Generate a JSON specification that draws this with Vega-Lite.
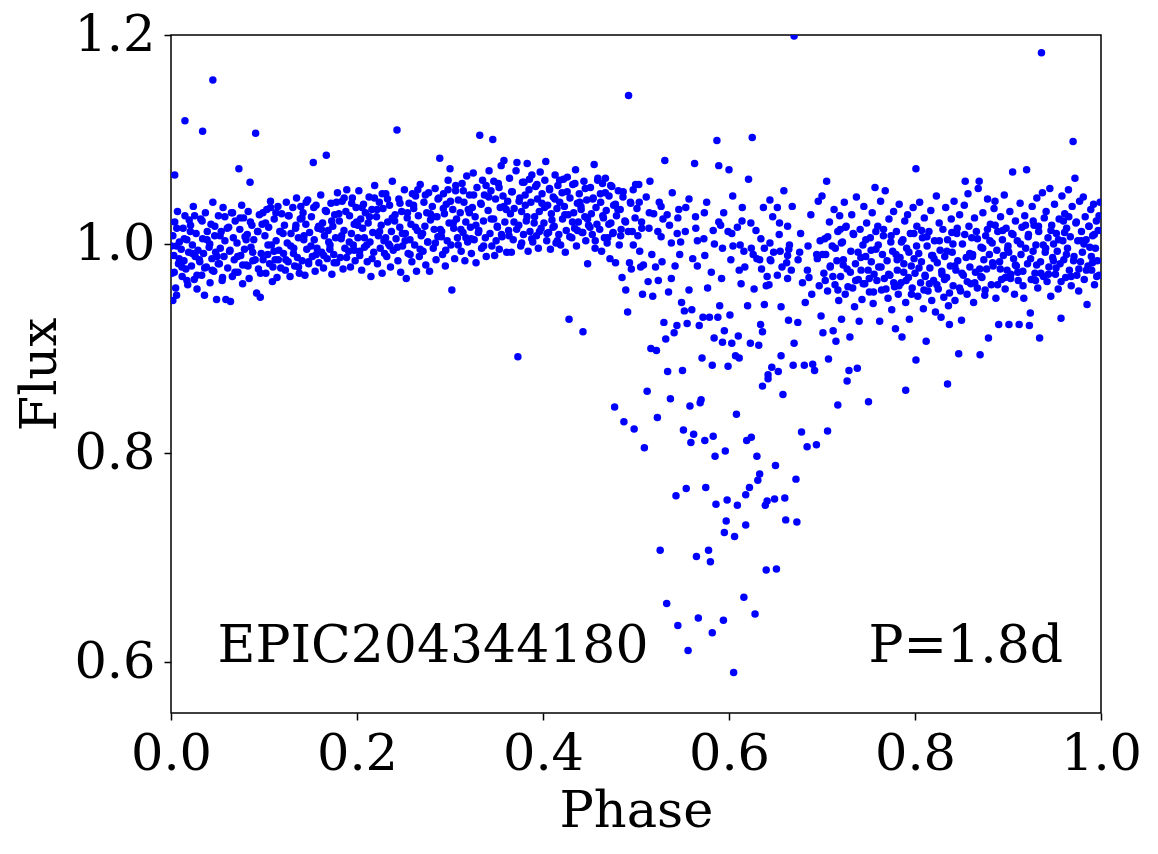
{
"$schema": "https://vega.github.io/schema/vega-lite/v6.json",
"usermeta": {"embedOptions": {"actions": false}},
"autosize": {"type": "none"},
"width": 930,
"height": 678,
"padding": {"left": 171, "top": 35, "right": 57, "bottom": 141},
"background": "white",
"config": {
  "view": {"stroke": "black", "strokeWidth": 1.5},
  "axis": {"grid": false, "domain": false, "ticks": true, "tickSize": 7, "tickWidth": 1.5, "tickColor": "black",
    "labelFont": "DejaVu Serif", "labelFontSize": 51, "labelColor": "black", "labelPadding": 9,
    "labelFlush": false, "labelOverlap": false, "labelBound": false,
    "titleFont": "DejaVu Serif", "titleFontSize": 51, "titleFontWeight": "normal", "titleColor": "black"}
},
"layer": [
{
  "data": {"values": [
{"p":0.001,"f":0.972},{"p":0.002,"f":1.008},{"p":0.003,"f":0.989},{"p":0.004,"f":1.021},{"p":0.005,"f":0.958},{"p":0.006,"f":0.998},{"p":0.007,"f":1.031},{"p":0.008,"f":0.981},{"p":0.009,"f":1.002},{"p":0.004,"f":1.066},{"p":0.002,"f":0.946},{"p":0.006,"f":0.951},
{"p":0.011,"f":0.995},{"p":0.012,"f":0.969},{"p":0.013,"f":1.015},{"p":0.014,"f":0.984},{"p":0.015,"f":1.027},{"p":0.016,"f":0.976},{"p":0.017,"f":1.004},{"p":0.018,"f":0.961},{"p":0.019,"f":0.992},{"p":0.015,"f":1.118},
{"p":0.021,"f":1.018},{"p":0.022,"f":0.979},{"p":0.023,"f":0.999},{"p":0.024,"f":1.036},{"p":0.025,"f":0.966},{"p":0.026,"f":0.988},{"p":0.027,"f":1.010},{"p":0.028,"f":0.957},{"p":0.029,"f":0.994},
{"p":0.031,"f":0.983},{"p":0.032,"f":1.024},{"p":0.033,"f":0.970},{"p":0.034,"f":1.005},{"p":0.035,"f":0.991},{"p":0.036,"f":0.951},{"p":0.037,"f":1.030},{"p":0.038,"f":0.978},{"p":0.039,"f":1.012},{"p":0.034,"f":1.108},
{"p":0.041,"f":0.997},{"p":0.042,"f":0.963},{"p":0.043,"f":1.019},{"p":0.044,"f":0.986},{"p":0.045,"f":1.040},{"p":0.046,"f":0.974},{"p":0.047,"f":1.008},{"p":0.048,"f":0.992},{"p":0.049,"f":0.947},{"p":0.045,"f":1.157},
{"p":0.051,"f":1.027},{"p":0.052,"f":0.981},{"p":0.053,"f":0.996},{"p":0.054,"f":1.012},{"p":0.055,"f":0.965},{"p":0.056,"f":1.035},{"p":0.057,"f":0.988},{"p":0.058,"f":1.003},{"p":0.059,"f":0.947},
{"p":0.061,"f":0.977},{"p":0.062,"f":1.016},{"p":0.063,"f":0.993},{"p":0.064,"f":0.945},{"p":0.065,"f":1.030},{"p":0.066,"f":0.969},{"p":0.067,"f":1.006},{"p":0.068,"f":0.985},{"p":0.069,"f":1.022},
{"p":0.071,"f":1.001},{"p":0.072,"f":0.973},{"p":0.073,"f":1.072},{"p":0.074,"f":1.014},{"p":0.075,"f":0.989},{"p":0.076,"f":1.037},{"p":0.077,"f":0.962},{"p":0.078,"f":1.025},{"p":0.079,"f":0.995},
{"p":0.081,"f":0.980},{"p":0.082,"f":1.009},{"p":0.083,"f":1.031},{"p":0.084,"f":0.967},{"p":0.085,"f":1.059},{"p":0.086,"f":0.997},{"p":0.087,"f":1.018},{"p":0.088,"f":0.984},{"p":0.089,"f":1.004},
{"p":0.091,"f":1.106},{"p":0.092,"f":0.953},{"p":0.093,"f":1.012},{"p":0.094,"f":0.976},{"p":0.095,"f":1.028},{"p":0.096,"f":0.949},{"p":0.097,"f":0.991},{"p":0.098,"f":1.019},{"p":0.099,"f":0.985},
{"p":0.101,"f":1.008},{"p":0.102,"f":0.972},{"p":0.103,"f":1.033},{"p":0.104,"f":0.990},{"p":0.105,"f":1.016},{"p":0.106,"f":0.981},{"p":0.107,"f":1.041},{"p":0.108,"f":0.999},{"p":0.109,"f":0.964},
{"p":0.111,"f":1.024},{"p":0.112,"f":0.985},{"p":0.113,"f":1.003},{"p":0.114,"f":0.968},{"p":0.115,"f":1.036},{"p":0.116,"f":0.994},{"p":0.117,"f":1.012},{"p":0.118,"f":0.977},{"p":0.119,"f":1.029},
{"p":0.121,"f":0.991},{"p":0.122,"f":1.018},{"p":0.123,"f":0.975},{"p":0.124,"f":1.040},{"p":0.125,"f":1.001},{"p":0.126,"f":0.983},{"p":0.127,"f":1.027},{"p":0.128,"f":0.969},{"p":0.129,"f":1.010},
{"p":0.131,"f":1.035},{"p":0.132,"f":0.996},{"p":0.133,"f":0.979},{"p":0.134,"f":1.015},{"p":0.135,"f":1.044},{"p":0.136,"f":0.987},{"p":0.137,"f":1.006},{"p":0.138,"f":0.972},{"p":0.139,"f":1.024},
{"p":0.141,"f":0.984},{"p":0.142,"f":1.030},{"p":0.143,"f":1.008},{"p":0.144,"f":0.970},{"p":0.145,"f":1.019},{"p":0.146,"f":0.995},{"p":0.147,"f":1.042},{"p":0.148,"f":0.981},{"p":0.149,"f":1.011},
{"p":0.151,"f":1.026},{"p":0.152,"f":0.988},{"p":0.153,"f":1.078},{"p":0.154,"f":1.004},{"p":0.155,"f":0.974},{"p":0.156,"f":1.037},{"p":0.157,"f":0.996},{"p":0.158,"f":1.015},{"p":0.159,"f":0.982},
{"p":0.161,"f":1.047},{"p":0.162,"f":0.992},{"p":0.163,"f":1.020},{"p":0.164,"f":0.977},{"p":0.165,"f":1.008},{"p":0.166,"f":1.032},{"p":0.167,"f":1.085},{"p":0.168,"f":0.986},{"p":0.169,"f":1.013},
{"p":0.171,"f":0.999},{"p":0.172,"f":1.039},{"p":0.173,"f":0.971},{"p":0.174,"f":1.017},{"p":0.175,"f":0.990},{"p":0.176,"f":1.028},{"p":0.177,"f":1.006},{"p":0.178,"f":0.982},{"p":0.179,"f":1.049},
{"p":0.181,"f":1.022},{"p":0.182,"f":0.987},{"p":0.183,"f":1.005},{"p":0.184,"f":1.041},{"p":0.185,"f":0.976},{"p":0.186,"f":1.013},{"p":0.187,"f":0.996},{"p":0.188,"f":1.031},{"p":0.189,"f":1.052},
{"p":0.191,"f":0.993},{"p":0.192,"f":1.027},{"p":0.193,"f":0.978},{"p":0.194,"f":1.010},{"p":0.195,"f":1.044},{"p":0.196,"f":0.999},{"p":0.197,"f":1.019},{"p":0.198,"f":0.984},{"p":0.199,"f":1.035},
{"p":0.201,"f":1.006},{"p":0.202,"f":1.051},{"p":0.203,"f":0.989},{"p":0.204,"f":1.024},{"p":0.205,"f":0.975},{"p":0.206,"f":1.015},{"p":0.207,"f":1.038},{"p":0.208,"f":0.997},{"p":0.209,"f":1.030},
{"p":0.211,"f":0.983},{"p":0.212,"f":1.020},{"p":0.213,"f":1.045},{"p":0.214,"f":1.002},{"p":0.215,"f":0.969},{"p":0.216,"f":1.033},{"p":0.217,"f":1.011},{"p":0.218,"f":0.992},{"p":0.219,"f":1.056},
{"p":0.221,"f":1.026},{"p":0.222,"f":0.981},{"p":0.223,"f":1.008},{"p":0.224,"f":1.040},{"p":0.225,"f":0.996},{"p":0.226,"f":1.018},{"p":0.227,"f":0.972},{"p":0.228,"f":1.034},{"p":0.229,"f":1.003},
{"p":0.231,"f":1.048},{"p":0.232,"f":0.988},{"p":0.233,"f":1.021},{"p":0.234,"f":1.000},{"p":0.235,"f":1.037},{"p":0.236,"f":0.978},{"p":0.237,"f":1.012},{"p":0.238,"f":1.060},{"p":0.239,"f":0.994},
{"p":0.241,"f":1.028},{"p":0.242,"f":1.005},{"p":0.243,"f":1.109},{"p":0.244,"f":0.984},{"p":0.245,"f":1.043},{"p":0.246,"f":1.016},{"p":0.247,"f":0.973},{"p":0.248,"f":1.031},{"p":0.249,"f":0.998},
{"p":0.251,"f":1.052},{"p":0.252,"f":1.010},{"p":0.253,"f":0.967},{"p":0.254,"f":1.025},{"p":0.255,"f":0.991},{"p":0.256,"f":1.039},{"p":0.257,"f":1.004},{"p":0.258,"f":1.019},{"p":0.259,"f":0.983},
{"p":0.261,"f":1.034},{"p":0.262,"f":0.999},{"p":0.263,"f":1.046},{"p":0.264,"f":0.974},{"p":0.265,"f":1.013},{"p":0.266,"f":1.027},{"p":0.267,"f":0.988},{"p":0.268,"f":1.057},{"p":0.269,"f":1.008},
{"p":0.271,"f":0.993},{"p":0.272,"f":1.040},{"p":0.273,"f":1.017},{"p":0.274,"f":0.980},{"p":0.275,"f":1.030},{"p":0.276,"f":1.002},{"p":0.277,"f":1.049},{"p":0.278,"f":0.974},{"p":0.279,"f":1.023},
{"p":0.281,"f":1.036},{"p":0.282,"f":0.996},{"p":0.283,"f":1.014},{"p":0.284,"f":1.053},{"p":0.285,"f":0.985},{"p":0.286,"f":1.026},{"p":0.287,"f":1.007},{"p":0.288,"f":1.044},{"p":0.289,"f":1.082},
{"p":0.291,"f":1.012},{"p":0.292,"f":0.990},{"p":0.293,"f":1.048},{"p":0.294,"f":1.029},{"p":0.295,"f":0.979},{"p":0.296,"f":1.038},{"p":0.297,"f":1.003},{"p":0.298,"f":1.061},{"p":0.299,"f":1.020},
{"p":0.300,"f":1.072},{"p":0.301,"f":0.999},{"p":0.302,"f":0.956},{"p":0.303,"f":1.033},{"p":0.304,"f":1.015},{"p":0.305,"f":0.986},{"p":0.306,"f":1.051},{"p":0.307,"f":1.024},{"p":0.308,"f":1.006},{"p":0.309,"f":1.042},
{"p":0.311,"f":1.030},{"p":0.312,"f":0.993},{"p":0.313,"f":1.058},{"p":0.314,"f":1.011},{"p":0.315,"f":1.040},{"p":0.316,"f":0.984},{"p":0.317,"f":1.021},{"p":0.318,"f":1.065},{"p":0.319,"f":1.002},
{"p":0.321,"f":1.047},{"p":0.322,"f":1.016},{"p":0.323,"f":0.991},{"p":0.324,"f":1.035},{"p":0.325,"f":1.068},{"p":0.326,"f":1.004},{"p":0.327,"f":1.026},{"p":0.328,"f":0.982},{"p":0.329,"f":1.054},
{"p":0.331,"f":1.013},{"p":0.332,"f":1.104},{"p":0.333,"f":1.039},{"p":0.334,"f":0.996},{"p":0.335,"f":1.061},{"p":0.336,"f":1.022},{"p":0.337,"f":1.047},{"p":0.338,"f":1.006},{"p":0.339,"f":0.988},
{"p":0.341,"f":1.032},{"p":0.342,"f":1.070},{"p":0.343,"f":1.010},{"p":0.344,"f":1.051},{"p":0.345,"f":0.998},{"p":0.346,"f":1.100},{"p":0.347,"f":1.024},{"p":0.348,"f":0.989},{"p":0.349,"f":1.043},
{"p":0.351,"f":1.016},{"p":0.352,"f":1.058},{"p":0.353,"f":0.995},{"p":0.354,"f":1.035},{"p":0.355,"f":1.075},{"p":0.356,"f":1.007},{"p":0.357,"f":1.046},{"p":0.358,"f":1.080},{"p":0.359,"f":1.021},
{"p":0.361,"f":0.992},{"p":0.362,"f":1.041},{"p":0.363,"f":1.013},{"p":0.364,"f":1.063},{"p":0.365,"f":1.029},{"p":0.366,"f":0.992},{"p":0.367,"f":1.050},{"p":0.368,"f":1.004},{"p":0.369,"f":1.034},
{"p":0.371,"f":1.070},{"p":0.372,"f":1.078},{"p":0.373,"f":0.892},{"p":0.374,"f":1.018},{"p":0.375,"f":1.044},{"p":0.376,"f":0.998},{"p":0.377,"f":1.031},{"p":0.378,"f":1.059},{"p":0.379,"f":1.009},
{"p":0.381,"f":1.037},{"p":0.382,"f":1.022},{"p":0.383,"f":1.077},{"p":0.384,"f":0.993},{"p":0.385,"f":1.052},{"p":0.386,"f":1.012},{"p":0.387,"f":1.040},{"p":0.388,"f":1.066},{"p":0.389,"f":1.002},
{"p":0.391,"f":1.026},{"p":0.392,"f":1.055},{"p":0.393,"f":1.008},{"p":0.394,"f":1.043},{"p":0.395,"f":0.996},{"p":0.396,"f":1.031},{"p":0.397,"f":1.069},{"p":0.398,"f":1.015},{"p":0.399,"f":1.048},
{"p":0.401,"f":1.020},{"p":0.402,"f":1.061},{"p":0.403,"f":1.079},{"p":0.404,"f":1.003},{"p":0.405,"f":1.037},{"p":0.406,"f":1.011},{"p":0.407,"f":1.053},{"p":0.408,"f":0.995},{"p":0.409,"f":1.029},
{"p":0.411,"f":1.045},{"p":0.412,"f":1.017},{"p":0.413,"f":1.066},{"p":0.414,"f":1.001},{"p":0.415,"f":1.034},{"p":0.416,"f":1.056},{"p":0.417,"f":1.009},{"p":0.418,"f":1.040},{"p":0.419,"f":0.999},
{"p":0.421,"f":1.024},{"p":0.422,"f":1.062},{"p":0.423,"f":1.036},{"p":0.424,"f":0.992},{"p":0.425,"f":1.013},{"p":0.426,"f":1.050},{"p":0.427,"f":1.028},{"p":0.428,"f":0.928},{"p":0.429,"f":1.044},
{"p":0.431,"f":1.006},{"p":0.432,"f":1.057},{"p":0.433,"f":1.030},{"p":0.434,"f":1.015},{"p":0.435,"f":1.071},{"p":0.436,"f":0.998},{"p":0.437,"f":1.039},{"p":0.438,"f":1.021},{"p":0.439,"f":1.048},
{"p":0.441,"f":1.033},{"p":0.442,"f":1.011},{"p":0.443,"f":0.916},{"p":0.444,"f":1.060},{"p":0.445,"f":1.026},{"p":0.446,"f":1.003},{"p":0.447,"f":1.042},{"p":0.448,"f":0.981},{"p":0.449,"f":1.018},
{"p":0.451,"f":1.054},{"p":0.452,"f":1.029},{"p":0.453,"f":1.009},{"p":0.454,"f":1.044},{"p":0.455,"f":1.076},{"p":0.456,"f":0.996},{"p":0.457,"f":1.035},{"p":0.458,"f":1.019},{"p":0.459,"f":1.063},
{"p":0.461,"f":1.014},{"p":0.462,"f":1.040},{"p":0.463,"f":0.993},{"p":0.464,"f":1.058},{"p":0.465,"f":1.025},{"p":0.466,"f":1.006},{"p":0.467,"f":1.049},{"p":0.468,"f":1.032},{"p":0.469,"f":1.001},
{"p":0.471,"f":1.046},{"p":0.472,"f":0.986},{"p":0.473,"f":1.020},{"p":0.474,"f":1.055},{"p":0.475,"f":1.010},{"p":0.476,"f":1.037},{"p":0.477,"f":0.844},{"p":0.478,"f":0.982},{"p":0.479,"f":1.027},
{"p":0.481,"f":1.051},{"p":0.482,"f":0.999},{"p":0.483,"f":1.033},{"p":0.484,"f":1.014},{"p":0.485,"f":0.968},{"p":0.486,"f":1.045},{"p":0.487,"f":0.830},{"p":0.488,"f":1.022},{"p":0.489,"f":0.956},
{"p":0.491,"f":0.935},{"p":0.492,"f":1.142},{"p":0.493,"f":0.982},{"p":0.494,"f":1.040},{"p":0.495,"f":0.976},{"p":0.496,"f":1.012},{"p":0.497,"f":1.052},{"p":0.498,"f":0.823},{"p":0.499,"f":1.025},
{"p":0.501,"f":1.034},{"p":0.502,"f":1.008},{"p":0.503,"f":1.057},{"p":0.504,"f":0.993},{"p":0.505,"f":0.978},{"p":0.506,"f":1.021},{"p":0.507,"f":0.952},{"p":0.508,"f":0.980},{"p":0.509,"f":0.805},
{"p":0.511,"f":1.045},{"p":0.512,"f":0.859},{"p":0.513,"f":0.964},{"p":0.514,"f":1.015},{"p":0.515,"f":1.060},{"p":0.516,"f":0.900},{"p":0.517,"f":0.990},{"p":0.518,"f":0.950},{"p":0.519,"f":1.029},
{"p":0.521,"f":0.978},{"p":0.522,"f":0.898},{"p":0.523,"f":0.834},{"p":0.524,"f":0.965},{"p":0.525,"f":1.040},{"p":0.526,"f":0.707},{"p":0.527,"f":1.007},{"p":0.528,"f":0.983},{"p":0.529,"f":1.024},{"p":0.527,"f":1.036},
{"p":0.531,"f":1.080},{"p":0.532,"f":0.909},{"p":0.533,"f":0.656},{"p":0.534,"f":0.878},{"p":0.535,"f":0.954},{"p":0.536,"f":1.018},{"p":0.537,"f":0.852},{"p":0.538,"f":0.967},{"p":0.539,"f":1.049},{"p":0.530,"f":0.925},{"p":0.538,"f":1.001},
{"p":0.541,"f":0.915},{"p":0.542,"f":0.979},{"p":0.543,"f":0.759},{"p":0.544,"f":0.922},{"p":0.545,"f":0.635},{"p":0.546,"f":1.033},{"p":0.547,"f":0.990},{"p":0.548,"f":1.002},{"p":0.549,"f":0.944},{"p":0.545,"f":1.025},
{"p":0.550,"f":0.879},{"p":0.551,"f":0.822},{"p":0.552,"f":0.936},{"p":0.553,"f":1.012},{"p":0.554,"f":0.766},{"p":0.555,"f":0.924},{"p":0.556,"f":0.611},{"p":0.557,"f":0.956},{"p":0.558,"f":0.845},{"p":0.559,"f":0.810},{"p":0.557,"f":1.043},
{"p":0.560,"f":0.937},{"p":0.561,"f":0.986},{"p":0.562,"f":0.818},{"p":0.563,"f":1.077},{"p":0.564,"f":1.026},{"p":0.565,"f":0.701},{"p":0.566,"f":0.979},{"p":0.567,"f":0.642},{"p":0.568,"f":0.922},{"p":0.569,"f":0.848},{"p":0.566,"f":1.003},
{"p":0.570,"f":0.851},{"p":0.571,"f":0.891},{"p":0.572,"f":0.930},{"p":0.573,"f":1.005},{"p":0.574,"f":0.812},{"p":0.575,"f":0.767},{"p":0.576,"f":1.040},{"p":0.577,"f":0.958},{"p":0.578,"f":0.707},{"p":0.579,"f":0.930},{"p":0.574,"f":0.989},
{"p":0.580,"f":0.696},{"p":0.581,"f":0.973},{"p":0.582,"f":0.884},{"p":0.583,"f":0.816},{"p":0.584,"f":0.910},{"p":0.585,"f":0.797},{"p":0.586,"f":0.751},{"p":0.587,"f":1.099},{"p":0.588,"f":0.930},{"p":0.589,"f":1.075},{"p":0.582,"f":0.628},{"p":0.583,"f":1.013},{"p":0.589,"f":1.021},
{"p":0.590,"f":0.941},{"p":0.591,"f":1.018},{"p":0.592,"f":0.967},{"p":0.593,"f":0.906},{"p":0.594,"f":0.640},{"p":0.595,"f":0.917},{"p":0.596,"f":0.802},{"p":0.597,"f":0.735},{"p":0.598,"f":0.755},{"p":0.599,"f":0.883},{"p":0.595,"f":0.724},{"p":0.593,"f":0.996},{"p":0.599,"f":1.012},
{"p":0.600,"f":1.071},{"p":0.601,"f":0.932},{"p":0.602,"f":0.985},{"p":0.603,"f":0.905},{"p":0.604,"f":1.046},{"p":0.605,"f":0.590},{"p":0.606,"f":0.720},{"p":0.607,"f":0.893},{"p":0.608,"f":0.837},{"p":0.609,"f":0.750},{"p":0.603,"f":1.010},{"p":0.609,"f":1.016},
{"p":0.610,"f":0.912},{"p":0.611,"f":0.891},{"p":0.612,"f":0.999},{"p":0.613,"f":0.962},{"p":0.614,"f":1.022},{"p":0.616,"f":0.662},{"p":0.617,"f":0.978},{"p":0.618,"f":0.731},{"p":0.619,"f":0.812},{"p":0.618,"f":0.760},{"p":0.611,"f":0.975},{"p":0.616,"f":0.993},
{"p":0.620,"f":0.941},{"p":0.621,"f":1.062},{"p":0.622,"f":0.767},{"p":0.623,"f":0.905},{"p":0.624,"f":0.815},{"p":0.625,"f":1.102},{"p":0.626,"f":0.990},{"p":0.627,"f":0.957},{"p":0.628,"f":0.646},{"p":0.629,"f":1.013},{"p":0.624,"f":0.996},
{"p":0.630,"f":0.797},{"p":0.631,"f":0.774},{"p":0.632,"f":0.903},{"p":0.633,"f":0.780},{"p":0.634,"f":0.923},{"p":0.635,"f":0.976},{"p":0.636,"f":0.916},{"p":0.637,"f":1.035},{"p":0.638,"f":0.942},{"p":0.636,"f":0.864},{"p":0.633,"f":0.985},{"p":0.630,"f":0.986},{"p":0.638,"f":0.996},
{"p":0.639,"f":0.750},{"p":0.640,"f":0.688},{"p":0.641,"f":0.754},{"p":0.642,"f":0.871},{"p":0.643,"f":0.961},{"p":0.644,"f":1.001},{"p":0.645,"f":0.984},{"p":0.646,"f":0.882},{"p":0.647,"f":1.026},{"p":0.642,"f":0.875},{"p":0.641,"f":0.969},{"p":0.644,"f":1.042},{"p":0.640,"f":0.960},
{"p":0.649,"f":0.756},{"p":0.650,"f":0.788},{"p":0.651,"f":0.689},{"p":0.652,"f":0.970},{"p":0.653,"f":0.878},{"p":0.654,"f":1.009},{"p":0.655,"f":0.993},{"p":0.656,"f":0.940},{"p":0.656,"f":0.893},{"p":0.658,"f":0.856},{"p":0.648,"f":0.992},{"p":0.652,"f":1.035},{"p":0.657,"f":0.978},
{"p":0.659,"f":1.051},{"p":0.660,"f":0.757},{"p":0.661,"f":0.736},{"p":0.662,"f":0.982},{"p":0.663,"f":1.017},{"p":0.664,"f":0.927},{"p":0.665,"f":0.999},{"p":0.667,"f":0.975},{"p":0.668,"f":1.036},{"p":0.663,"f":0.967},{"p":0.663,"f":0.989},
{"p":0.670,"f":1.199},{"p":0.670,"f":0.905},{"p":0.669,"f":0.884},{"p":0.672,"f":0.775},{"p":0.673,"f":0.734},{"p":0.674,"f":0.925},{"p":0.676,"f":0.992},{"p":0.678,"f":0.820},{"p":0.679,"f":0.963},{"p":0.677,"f":1.010},
{"p":0.681,"f":0.884},{"p":0.682,"f":0.944},{"p":0.684,"f":0.806},{"p":0.685,"f":0.998},{"p":0.686,"f":0.968},{"p":0.688,"f":1.028},{"p":0.689,"f":0.952},{"p":0.690,"f":0.885},
{"p":0.692,"f":0.879},{"p":0.694,"f":0.808},{"p":0.695,"f":0.986},{"p":0.696,"f":1.041},{"p":0.697,"f":0.960},{"p":0.698,"f":1.003},{"p":0.699,"f":0.931},
{"p":0.700,"f":1.046},{"p":0.701,"f":0.915},{"p":0.702,"f":0.972},{"p":0.703,"f":1.005},{"p":0.704,"f":0.990},{"p":0.705,"f":1.060},{"p":0.706,"f":0.955},{"p":0.707,"f":0.890},{"p":0.708,"f":1.021},{"p":0.709,"f":0.979},{"p":0.706,"f":0.821},
{"p":0.711,"f":0.998},{"p":0.712,"f":0.917},{"p":0.713,"f":1.033},{"p":0.714,"f":0.961},{"p":0.715,"f":0.907},{"p":0.716,"f":0.984},{"p":0.717,"f":1.012},{"p":0.718,"f":0.946},{"p":0.719,"f":1.027},{"p":0.717,"f":0.846},
{"p":0.720,"f":0.969},{"p":0.721,"f":0.928},{"p":0.722,"f":1.002},{"p":0.723,"f":0.985},{"p":0.724,"f":1.040},{"p":0.725,"f":0.952},{"p":0.726,"f":1.017},{"p":0.727,"f":0.976},{"p":0.729,"f":0.879},{"p":0.730,"f":0.911},{"p":0.727,"f":0.869},
{"p":0.731,"f":0.993},{"p":0.732,"f":1.028},{"p":0.733,"f":0.958},{"p":0.734,"f":1.009},{"p":0.735,"f":0.940},{"p":0.736,"f":0.981},{"p":0.737,"f":1.045},{"p":0.738,"f":0.881},{"p":0.739,"f":0.966},
{"p":0.740,"f":0.926},{"p":0.741,"f":1.014},{"p":0.742,"f":0.975},{"p":0.743,"f":0.947},{"p":0.744,"f":0.999},{"p":0.745,"f":1.036},{"p":0.746,"f":0.962},{"p":0.747,"f":0.988},{"p":0.748,"f":1.020},
{"p":0.750,"f":0.849},{"p":0.751,"f":0.954},{"p":0.752,"f":1.006},{"p":0.753,"f":0.983},{"p":0.754,"f":1.030},{"p":0.755,"f":0.943},{"p":0.756,"f":0.971},{"p":0.757,"f":1.054},{"p":0.758,"f":0.995},{"p":0.759,"f":0.965},
{"p":0.760,"f":1.017},{"p":0.761,"f":0.978},{"p":0.762,"f":0.926},{"p":0.763,"f":1.041},{"p":0.764,"f":0.956},{"p":0.765,"f":0.990},{"p":0.766,"f":1.008},{"p":0.767,"f":0.967},{"p":0.768,"f":1.051},
{"p":0.770,"f":0.984},{"p":0.771,"f":0.948},{"p":0.772,"f":1.024},{"p":0.773,"f":0.970},{"p":0.774,"f":1.002},{"p":0.775,"f":0.937},{"p":0.776,"f":0.993},{"p":0.777,"f":1.031},{"p":0.778,"f":0.959},{"p":0.779,"f":0.919},
{"p":0.780,"f":1.012},{"p":0.781,"f":0.975},{"p":0.782,"f":0.952},{"p":0.783,"f":1.038},{"p":0.784,"f":0.987},{"p":0.785,"f":0.963},{"p":0.786,"f":0.911},{"p":0.787,"f":1.004},{"p":0.788,"f":0.981},{"p":0.789,"f":1.022},
{"p":0.790,"f":0.944},{"p":0.791,"f":0.996},{"p":0.792,"f":1.028},{"p":0.793,"f":0.968},{"p":0.794,"f":0.928},{"p":0.795,"f":1.010},{"p":0.796,"f":0.979},{"p":0.797,"f":0.958},{"p":0.798,"f":1.035},{"p":0.799,"f":0.986},{"p":0.790,"f":0.860},
{"p":0.800,"f":0.972},{"p":0.801,"f":1.072},{"p":0.801,"f":0.889},{"p":0.802,"f":1.017},{"p":0.803,"f":0.950},{"p":0.804,"f":0.991},{"p":0.805,"f":1.040},{"p":0.806,"f":0.963},{"p":0.807,"f":0.983},{"p":0.808,"f":1.006},{"p":0.809,"f":0.938},
{"p":0.810,"f":1.025},{"p":0.811,"f":0.969},{"p":0.812,"f":0.907},{"p":0.813,"f":0.998},{"p":0.814,"f":0.955},{"p":0.815,"f":1.012},{"p":0.816,"f":0.977},{"p":0.817,"f":1.032},{"p":0.818,"f":0.946},{"p":0.819,"f":0.989},
{"p":0.820,"f":0.965},{"p":0.821,"f":1.003},{"p":0.822,"f":0.935},{"p":0.823,"f":1.046},{"p":0.824,"f":0.982},{"p":0.825,"f":0.957},{"p":0.826,"f":1.020},{"p":0.827,"f":0.994},{"p":0.828,"f":0.930},{"p":0.829,"f":0.971},
{"p":0.830,"f":1.014},{"p":0.831,"f":0.949},{"p":0.832,"f":0.988},{"p":0.833,"f":1.035},{"p":0.834,"f":0.968},{"p":0.835,"f":1.004},{"p":0.836,"f":0.941},{"p":0.837,"f":0.923},{"p":0.838,"f":0.979},{"p":0.839,"f":1.024},{"p":0.835,"f":0.866},
{"p":0.840,"f":0.992},{"p":0.841,"f":0.960},{"p":0.842,"f":1.041},{"p":0.843,"f":0.946},{"p":0.844,"f":0.975},{"p":0.845,"f":1.010},{"p":0.846,"f":0.984},{"p":0.847,"f":0.895},{"p":0.848,"f":1.028},{"p":0.849,"f":0.955},
{"p":0.850,"f":0.927},{"p":0.851,"f":1.000},{"p":0.852,"f":0.970},{"p":0.853,"f":1.037},{"p":0.854,"f":1.060},{"p":0.855,"f":0.987},{"p":0.856,"f":0.952},{"p":0.857,"f":1.048},{"p":0.858,"f":1.017},{"p":0.859,"f":0.978},
{"p":0.860,"f":0.962},{"p":0.861,"f":1.006},{"p":0.862,"f":0.990},{"p":0.863,"f":0.944},{"p":0.864,"f":1.025},{"p":0.865,"f":0.973},{"p":0.866,"f":1.012},{"p":0.867,"f":0.958},{"p":0.868,"f":1.053},{"p":0.869,"f":1.060},{"p":0.870,"f":0.894},
{"p":0.871,"f":0.997},{"p":0.872,"f":0.968},{"p":0.873,"f":1.030},{"p":0.874,"f":0.985},{"p":0.875,"f":0.951},{"p":0.876,"f":1.008},{"p":0.877,"f":0.976},{"p":0.878,"f":1.043},{"p":0.879,"f":0.910},
{"p":0.880,"f":0.990},{"p":0.881,"f":1.019},{"p":0.882,"f":0.961},{"p":0.883,"f":1.001},{"p":0.884,"f":0.979},{"p":0.885,"f":1.034},{"p":0.886,"f":1.041},{"p":0.887,"f":0.948},{"p":0.888,"f":0.994},{"p":0.889,"f":1.012},
{"p":0.890,"f":0.923},{"p":0.891,"f":0.983},{"p":0.892,"f":1.026},{"p":0.893,"f":0.966},{"p":0.894,"f":1.004},{"p":0.895,"f":0.989},{"p":0.896,"f":1.047},{"p":0.897,"f":0.957},{"p":0.898,"f":1.015},{"p":0.899,"f":0.975},
{"p":0.900,"f":0.998},{"p":0.901,"f":0.923},{"p":0.902,"f":1.031},{"p":0.903,"f":0.971},{"p":0.904,"f":1.010},{"p":0.905,"f":1.069},{"p":0.906,"f":0.986},{"p":0.907,"f":0.952},{"p":0.908,"f":1.022},{"p":0.909,"f":0.979},
{"p":0.910,"f":1.003},{"p":0.911,"f":0.965},{"p":0.912,"f":0.923},{"p":0.913,"f":1.039},{"p":0.914,"f":0.990},{"p":0.915,"f":1.016},{"p":0.916,"f":0.974},{"p":0.917,"f":0.948},{"p":0.918,"f":1.027},{"p":0.919,"f":0.996},
{"p":0.920,"f":1.071},{"p":0.921,"f":0.981},{"p":0.922,"f":1.009},{"p":0.923,"f":0.922},{"p":0.924,"f":0.934},{"p":0.925,"f":0.966},{"p":0.926,"f":1.036},{"p":0.927,"f":0.993},{"p":0.928,"f":1.018},{"p":0.929,"f":0.972},
{"p":0.930,"f":0.999},{"p":0.931,"f":1.044},{"p":0.932,"f":0.958},{"p":0.933,"f":1.012},{"p":0.934,"f":0.910},{"p":0.935,"f":0.983},{"p":0.936,"f":1.183},{"p":0.937,"f":1.049},{"p":0.938,"f":0.969},{"p":0.939,"f":1.025},
{"p":0.940,"f":0.992},{"p":0.941,"f":1.031},{"p":0.942,"f":0.964},{"p":0.943,"f":1.006},{"p":0.944,"f":0.978},{"p":0.945,"f":1.053},{"p":0.946,"f":0.950},{"p":0.947,"f":1.018},{"p":0.948,"f":0.987},{"p":0.949,"f":1.000},
{"p":0.950,"f":1.038},{"p":0.951,"f":0.971},{"p":0.952,"f":1.010},{"p":0.953,"f":0.993},{"p":0.954,"f":0.957},{"p":0.955,"f":1.024},{"p":0.956,"f":0.981},{"p":0.957,"f":0.929},{"p":0.958,"f":1.046},{"p":0.959,"f":1.003},
{"p":0.960,"f":0.985},{"p":0.961,"f":1.029},{"p":0.962,"f":0.968},{"p":0.963,"f":1.015},{"p":0.964,"f":0.996},{"p":0.965,"f":1.052},{"p":0.966,"f":0.975},{"p":0.967,"f":1.007},{"p":0.968,"f":0.960},{"p":0.969,"f":1.036},
{"p":0.970,"f":1.098},{"p":0.971,"f":0.988},{"p":0.972,"f":1.063},{"p":0.973,"f":1.020},{"p":0.974,"f":0.970},{"p":0.975,"f":1.003},{"p":0.976,"f":0.955},{"p":0.977,"f":1.041},{"p":0.978,"f":0.983},{"p":0.979,"f":1.012},
{"p":0.980,"f":0.992},{"p":0.981,"f":1.045},{"p":0.982,"f":0.966},{"p":0.983,"f":1.026},{"p":0.984,"f":1.004},{"p":0.985,"f":0.942},{"p":0.986,"f":0.979},{"p":0.987,"f":1.017},{"p":0.988,"f":0.997},{"p":0.989,"f":1.033},
{"p":0.990,"f":0.975},{"p":0.991,"f":1.008},{"p":0.992,"f":1.038},{"p":0.993,"f":0.961},{"p":0.994,"f":0.996},{"p":0.995,"f":1.022},{"p":0.996,"f":0.984},{"p":0.997,"f":1.013},{"p":0.998,"f":0.970},{"p":0.999,"f":1.040},
{"p":0.0005,"f":0.998},{"p":0.0035,"f":0.973},{"p":0.0062,"f":1.015},{"p":0.0088,"f":0.986},
{"p":0.0117,"f":0.978},{"p":0.0143,"f":1.005},{"p":0.0171,"f":0.965},{"p":0.0196,"f":1.023},
{"p":0.0208,"f":1.012},{"p":0.0228,"f":0.991},{"p":0.0254,"f":1.027},{"p":0.0279,"f":0.970},
{"p":0.0305,"f":0.985},{"p":0.0335,"f":1.022},{"p":0.0362,"f":0.977},{"p":0.0388,"f":1.004},
{"p":0.0417,"f":1.000},{"p":0.0443,"f":0.975},{"p":0.0471,"f":1.017},{"p":0.0496,"f":0.988},
{"p":0.0508,"f":0.981},{"p":0.0528,"f":1.008},{"p":0.0554,"f":0.968},{"p":0.0579,"f":1.026},
{"p":0.0605,"f":1.015},{"p":0.0635,"f":0.994},{"p":0.0662,"f":1.030},{"p":0.0688,"f":0.973},
{"p":0.0717,"f":0.988},{"p":0.0743,"f":1.025},{"p":0.0771,"f":0.980},{"p":0.0796,"f":1.007},
{"p":0.0808,"f":1.004},{"p":0.0828,"f":0.979},{"p":0.0854,"f":1.021},{"p":0.0879,"f":0.992},
{"p":0.0905,"f":0.985},{"p":0.0935,"f":1.012},{"p":0.0962,"f":0.972},{"p":0.0988,"f":1.030},
{"p":0.1017,"f":1.020},{"p":0.1043,"f":0.999},{"p":0.1071,"f":1.035},{"p":0.1096,"f":0.978},
{"p":0.1108,"f":0.993},{"p":0.1128,"f":1.030},{"p":0.1154,"f":0.985},{"p":0.1179,"f":1.012},
{"p":0.1205,"f":1.010},{"p":0.1235,"f":0.985},{"p":0.1262,"f":1.027},{"p":0.1288,"f":0.998},
{"p":0.1317,"f":0.991},{"p":0.1343,"f":1.018},{"p":0.1371,"f":0.978},{"p":0.1396,"f":1.036},
{"p":0.1408,"f":1.025},{"p":0.1428,"f":1.004},{"p":0.1454,"f":1.040},{"p":0.1479,"f":0.983},
{"p":0.1505,"f":0.998},{"p":0.1535,"f":1.035},{"p":0.1562,"f":0.990},{"p":0.1588,"f":1.017},
{"p":0.1617,"f":1.014},{"p":0.1643,"f":0.989},{"p":0.1671,"f":1.031},{"p":0.1696,"f":1.002},
{"p":0.1708,"f":0.995},{"p":0.1728,"f":1.022},{"p":0.1754,"f":0.982},{"p":0.1779,"f":1.040},
{"p":0.1805,"f":1.029},{"p":0.1835,"f":1.008},{"p":0.1862,"f":1.044},{"p":0.1888,"f":0.987},
{"p":0.1917,"f":1.002},{"p":0.1943,"f":1.039},{"p":0.1971,"f":0.994},{"p":0.1996,"f":1.021},
{"p":0.2008,"f":1.018},{"p":0.2028,"f":0.993},{"p":0.2054,"f":1.035},{"p":0.2079,"f":1.006},
{"p":0.2105,"f":0.999},{"p":0.2135,"f":1.026},{"p":0.2162,"f":0.986},{"p":0.2188,"f":1.044},
{"p":0.2217,"f":1.033},{"p":0.2243,"f":1.012},{"p":0.2271,"f":1.048},{"p":0.2296,"f":0.991},
{"p":0.2308,"f":1.006},{"p":0.2328,"f":1.043},{"p":0.2354,"f":0.998},{"p":0.2379,"f":1.025},
{"p":0.2405,"f":1.022},{"p":0.2435,"f":0.997},{"p":0.2462,"f":1.039},{"p":0.2488,"f":1.010},
{"p":0.2517,"f":1.003},{"p":0.2543,"f":1.030},{"p":0.2571,"f":0.990},{"p":0.2596,"f":1.048},
{"p":0.2608,"f":1.037},{"p":0.2628,"f":1.016},{"p":0.2654,"f":1.052},{"p":0.2679,"f":0.995},
{"p":0.2705,"f":1.010},{"p":0.2735,"f":1.047},{"p":0.2762,"f":1.002},{"p":0.2788,"f":1.029},
{"p":0.2817,"f":1.026},{"p":0.2843,"f":1.001},{"p":0.2871,"f":1.043},{"p":0.2896,"f":1.014},
{"p":0.2908,"f":1.007},{"p":0.2928,"f":1.034},{"p":0.2954,"f":0.994},{"p":0.2979,"f":1.052},
{"p":0.3005,"f":1.041},{"p":0.3035,"f":1.020},{"p":0.3062,"f":1.056},{"p":0.3088,"f":0.999},
{"p":0.3117,"f":1.014},{"p":0.3143,"f":1.051},{"p":0.3171,"f":1.006},{"p":0.3196,"f":1.033},
{"p":0.3208,"f":1.030},{"p":0.3228,"f":1.005},{"p":0.3254,"f":1.047},{"p":0.3279,"f":1.018},
{"p":0.3305,"f":1.011},{"p":0.3335,"f":1.038},{"p":0.3362,"f":0.998},{"p":0.3388,"f":1.056},
{"p":0.3417,"f":1.045},{"p":0.3443,"f":1.024},{"p":0.3471,"f":1.060},{"p":0.3496,"f":1.003},
{"p":0.3508,"f":1.017},{"p":0.3528,"f":1.054},{"p":0.3554,"f":1.009},{"p":0.3579,"f":1.036},
{"p":0.3605,"f":1.033},{"p":0.3635,"f":1.008},{"p":0.3662,"f":1.050},{"p":0.3688,"f":1.021},
{"p":0.3717,"f":1.014},{"p":0.3743,"f":1.041},{"p":0.3771,"f":1.001},{"p":0.3796,"f":1.059},
{"p":0.3808,"f":1.047},{"p":0.3828,"f":1.026},{"p":0.3854,"f":1.062},{"p":0.3879,"f":1.005},
{"p":0.3905,"f":1.020},{"p":0.3935,"f":1.057},{"p":0.3962,"f":1.012},{"p":0.3988,"f":1.039},
{"p":0.4017,"f":1.035},{"p":0.4043,"f":1.010},{"p":0.4071,"f":1.052},{"p":0.4096,"f":1.023},
{"p":0.4108,"f":1.016},{"p":0.4128,"f":1.043},{"p":0.4154,"f":1.003},{"p":0.4179,"f":1.061},
{"p":0.4205,"f":1.049},{"p":0.4235,"f":1.028},{"p":0.4262,"f":1.064},{"p":0.4288,"f":1.007},
{"p":0.4317,"f":1.021},{"p":0.4343,"f":1.058},{"p":0.4371,"f":1.013},{"p":0.4396,"f":1.040},
{"p":0.4408,"f":1.036},{"p":0.4428,"f":1.011},{"p":0.4454,"f":1.053},{"p":0.4479,"f":1.024},
{"p":0.4505,"f":1.016},{"p":0.4535,"f":1.043},{"p":0.4562,"f":1.003},{"p":0.4588,"f":1.061},
{"p":0.4617,"f":1.048},{"p":0.4643,"f":1.027},{"p":0.4671,"f":1.063},{"p":0.4696,"f":1.006},
{"p":0.4708,"f":1.019},{"p":0.4728,"f":1.056},{"p":0.4754,"f":1.011},{"p":0.4779,"f":1.038},
{"p":0.4805,"f":1.033},{"p":0.4835,"f":1.008},{"p":0.4862,"f":1.050},{"p":0.4888,"f":1.021},
{"p":0.4917,"f":1.012},{"p":0.4943,"f":1.039},{"p":0.4971,"f":0.999},{"p":0.4996,"f":1.057},
{"p":0.5035,"f":1.040},{"p":0.5062,"f":1.015},{"p":0.5143,"f":1.030},{"p":0.5235,"f":1.012},{"p":0.5335,"f":1.028},{"p":0.5443,"f":1.010},{"p":0.5535,"f":1.035},{"p":0.5643,"f":1.015},{"p":0.5735,"f":1.030},{"p":0.5843,"f":1.000},{"p":0.5943,"f":1.030},{"p":0.6043,"f":0.998},{"p":0.6143,"f":1.035},{"p":0.6235,"f":1.020},{"p":0.6343,"f":1.005},{"p":0.6443,"f":0.985},{"p":0.6543,"f":1.020},{"p":0.6643,"f":0.995},{"p":0.6743,"f":0.985},{"p":0.6843,"f":0.975},{"p":0.6943,"f":0.990},
{"p":0.7005,"f":0.990},{"p":0.7035,"f":0.965},{"p":0.7062,"f":1.007},{"p":0.7088,"f":0.978},
{"p":0.7117,"f":0.969},{"p":0.7143,"f":0.996},{"p":0.7171,"f":0.956},{"p":0.7196,"f":1.014},
{"p":0.7208,"f":1.001},{"p":0.7228,"f":0.980},{"p":0.7254,"f":1.016},{"p":0.7279,"f":0.959},
{"p":0.7305,"f":0.973},{"p":0.7335,"f":1.010},{"p":0.7362,"f":0.965},{"p":0.7388,"f":0.992},
{"p":0.7417,"f":0.987},{"p":0.7443,"f":0.962},{"p":0.7471,"f":1.004},{"p":0.7496,"f":0.975},
{"p":0.7508,"f":0.967},{"p":0.7528,"f":0.994},{"p":0.7554,"f":0.954},{"p":0.7579,"f":1.012},
{"p":0.7605,"f":0.999},{"p":0.7635,"f":0.978},{"p":0.7662,"f":1.014},{"p":0.7688,"f":0.957},
{"p":0.7717,"f":0.971},{"p":0.7743,"f":1.008},{"p":0.7771,"f":0.963},{"p":0.7796,"f":0.990},
{"p":0.7808,"f":0.985},{"p":0.7828,"f":0.960},{"p":0.7854,"f":1.002},{"p":0.7879,"f":0.973},
{"p":0.7905,"f":0.965},{"p":0.7935,"f":0.992},{"p":0.7962,"f":0.952},{"p":0.7988,"f":1.010},
{"p":0.8017,"f":0.998},{"p":0.8043,"f":0.977},{"p":0.8071,"f":1.013},{"p":0.8096,"f":0.956},
{"p":0.8108,"f":0.970},{"p":0.8128,"f":1.007},{"p":0.8154,"f":0.962},{"p":0.8179,"f":0.989},
{"p":0.8205,"f":0.986},{"p":0.8235,"f":0.961},{"p":0.8262,"f":1.003},{"p":0.8288,"f":0.974},
{"p":0.8317,"f":0.966},{"p":0.8343,"f":0.993},{"p":0.8371,"f":0.953},{"p":0.8396,"f":1.011},
{"p":0.8408,"f":1.000},{"p":0.8428,"f":0.979},{"p":0.8454,"f":1.015},{"p":0.8479,"f":0.958},
{"p":0.8505,"f":0.972},{"p":0.8535,"f":1.009},{"p":0.8562,"f":0.964},{"p":0.8588,"f":0.991},
{"p":0.8617,"f":0.988},{"p":0.8643,"f":0.963},{"p":0.8671,"f":1.005},{"p":0.8696,"f":0.976},
{"p":0.8708,"f":0.969},{"p":0.8728,"f":0.996},{"p":0.8754,"f":0.956},{"p":0.8779,"f":1.014},
{"p":0.8805,"f":1.003},{"p":0.8835,"f":0.982},{"p":0.8862,"f":1.018},{"p":0.8888,"f":0.961},
{"p":0.8917,"f":0.976},{"p":0.8943,"f":1.013},{"p":0.8971,"f":0.968},{"p":0.8996,"f":0.995},
{"p":0.9008,"f":0.992},{"p":0.9028,"f":0.967},{"p":0.9054,"f":1.009},{"p":0.9079,"f":0.980},
{"p":0.9105,"f":0.973},{"p":0.9135,"f":1.000},{"p":0.9162,"f":0.960},{"p":0.9188,"f":1.018},
{"p":0.9217,"f":1.007},{"p":0.9243,"f":0.986},{"p":0.9271,"f":1.022},{"p":0.9296,"f":0.965},
{"p":0.9308,"f":0.980},{"p":0.9328,"f":1.017},{"p":0.9354,"f":0.972},{"p":0.9379,"f":0.999},
{"p":0.9405,"f":0.996},{"p":0.9435,"f":0.971},{"p":0.9462,"f":1.013},{"p":0.9488,"f":0.984},
{"p":0.9517,"f":0.977},{"p":0.9543,"f":1.004},{"p":0.9571,"f":0.964},{"p":0.9596,"f":1.022},
{"p":0.9608,"f":1.011},{"p":0.9628,"f":0.990},{"p":0.9654,"f":1.026},{"p":0.9679,"f":0.969},
{"p":0.9705,"f":0.984},{"p":0.9735,"f":1.021},{"p":0.9762,"f":0.976},{"p":0.9788,"f":1.003},
{"p":0.9817,"f":1.000},{"p":0.9843,"f":0.975},{"p":0.9871,"f":1.017},{"p":0.9896,"f":0.988},
{"p":0.9908,"f":0.982},{"p":0.9928,"f":1.009},{"p":0.9954,"f":0.969},{"p":0.9979,"f":1.027}
  ]},
  "mark": {"type": "point", "shape": "circle", "filled": true, "color": "#0000ff", "opacity": 1, "size": 56, "clip": true},
  "encoding": {
    "x": {"field": "p", "type": "quantitative", "title": "Phase",
      "scale": {"domain": [0, 1], "nice": false, "zero": false},
      "axis": {"values": [0, 0.2, 0.4, 0.6, 0.8, 1.0], "format": ".1f", "titleBaseline": "alphabetic", "titleY": 113}},
    "y": {"field": "f", "type": "quantitative", "title": "Flux",
      "scale": {"domain": [0.5512, 1.2], "nice": false, "zero": false},
      "axis": {"values": [0.6, 0.8, 1.0, 1.2], "format": ".1f", "titleBaseline": "alphabetic", "titleX": -116, "titleAlign": "center"}}
  }
},
{
  "data": {"values": [
    {"p": 0.05, "f": 0.6, "label": "EPIC204344180"},
    {"p": 0.75, "f": 0.6, "label": "P=1.8d"}
  ]},
  "mark": {"type": "text", "font": "DejaVu Serif", "fontSize": 52, "align": "left", "baseline": "alphabetic", "color": "black"},
  "encoding": {
    "x": {"field": "p", "type": "quantitative"},
    "y": {"field": "f", "type": "quantitative"},
    "text": {"field": "label"}
  }
}
]
}
